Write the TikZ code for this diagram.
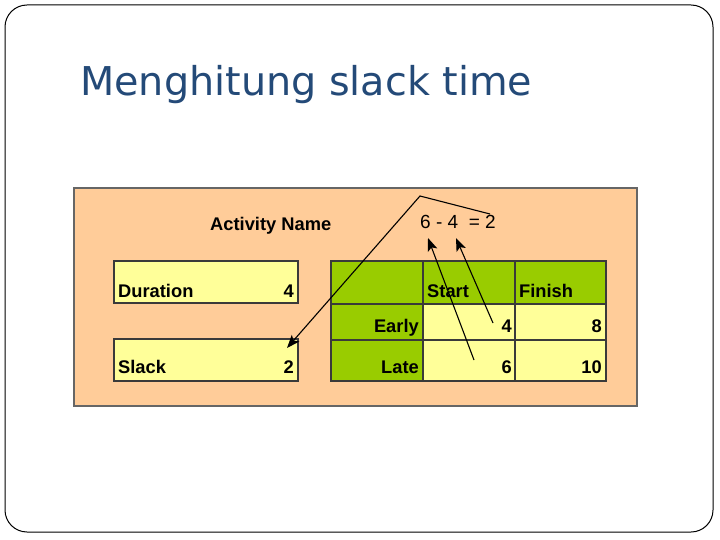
\documentclass[tikz,border=0pt]{standalone}
\usepackage{fontspec}
\setmainfont{Liberation Sans}
\newfontfamily\titlefont{DejaVu Sans}
\usetikzlibrary{arrows.meta}
\definecolor{titleblue}{HTML}{244A78}
\definecolor{peach}{HTML}{FFCC99}
\definecolor{cellgreen}{HTML}{99CC00}
\definecolor{cellyellow}{HTML}{FFFF99}
\definecolor{edgegray}{HTML}{3A3A3A}
\tikzset{
  cell/.style={draw=edgegray, line width=1.3pt, inner sep=0pt, outer sep=0pt},
  lbl/.style={font=\fontsize{18.3}{20}\selectfont\bfseries, inner sep=0pt, anchor=base west},
  lblr/.style={font=\fontsize{18.3}{20}\selectfont\bfseries, inner sep=0pt, anchor=base east},
  link/.style={line width=1.1pt, black},
  tip/.style={-{Stealth[length=13pt,width=10pt,inset=3pt]}}
}
\begin{document}
\begin{tikzpicture}[x=1pt,y=-1pt]
\useasboundingbox (0,0) rectangle (720,540);
% slide frame
\draw[line width=1pt, black, rounded corners=22pt] (5,5) rectangle (713,532);
\node[text=titleblue, font=\titlefont\fontsize{39.7}{44}\selectfont, anchor=base west, inner sep=0pt] (title) at (80,96) {Menghitung slack time};
% panel
\draw[fill=peach, draw=gray!80!black, line width=1.2pt] (74,188) rectangle (637,406);
\node[lbl] (act) at (210,230) {Activity Name};
\node[font=\fontsize{19}{20}\selectfont, inner sep=0pt, anchor=base west] (eq) at (420,229) {6 - 4 \ = 2};
% left boxes
\node[cell, fill=cellyellow, minimum width=184pt, minimum height=42pt] (dur) at (206,282) {};
\node[cell, fill=cellyellow, minimum width=184pt, minimum height=42pt] (slk) at (206,360) {};
\node[lbl] (durt) at (118,297) {Duration};
\node[lblr] (durv) at (294,297) {4};
\node[lbl] (slkt) at (118,373) {Slack};
\node[lblr] (slkv) at (294,373) {2};
% table
\node[cell, fill=cellgreen, minimum width=92pt, minimum height=43pt] (c00) at (377,282.5) {};
\node[cell, fill=cellgreen, minimum width=92pt, minimum height=43pt] (c01) at (469,282.5) {};
\node[cell, fill=cellgreen, minimum width=91pt, minimum height=43pt] (c02) at (560.5,282.5) {};
\node[cell, fill=cellgreen, minimum width=92pt, minimum height=36pt] (c10) at (377,322) {};
\node[cell, fill=cellyellow, minimum width=92pt, minimum height=36pt] (c11) at (469,322) {};
\node[cell, fill=cellyellow, minimum width=91pt, minimum height=36pt] (c12) at (560.5,322) {};
\node[cell, fill=cellgreen, minimum width=92pt, minimum height=41pt] (c20) at (377,360.5) {};
\node[cell, fill=cellyellow, minimum width=92pt, minimum height=41pt] (c21) at (469,360.5) {};
\node[cell, fill=cellyellow, minimum width=91pt, minimum height=41pt] (c22) at (560.5,360.5) {};
\draw[edgegray, line width=1.6pt] (c00.north west) rectangle (c22.south east);
\node[lbl] (tstart) at (427,297) {Start};
\node[lbl] (tfin) at (519,297) {Finish};
\node[lblr] (tearly) at (419,332) {Early};
\node[lblr] (tlate) at (419,373) {Late};
\node[lblr] (es) at (512,332) {4};
\node[lblr] (ef) at (602,332) {8};
\node[lblr] (ls) at (512,373) {6};
\node[lblr] (lf) at (602,373) {10};
% connectors
\coordinate (peakend) at (490,214);
\coordinate (peak) at (420,196);
\coordinate (slacktip) at (287,348);
\coordinate (lsfrom) at (474,360);
\coordinate (sixtip) at (428,238);
\coordinate (esfrom) at (493,323);
\coordinate (fourtip) at (456,238);
\draw[link, tip] (peakend) -- (peak) -- (slacktip);
\draw[link, tip] (lsfrom) -- (sixtip);
\draw[link, tip] (esfrom) -- (fourtip);
\end{tikzpicture}
\end{document}
